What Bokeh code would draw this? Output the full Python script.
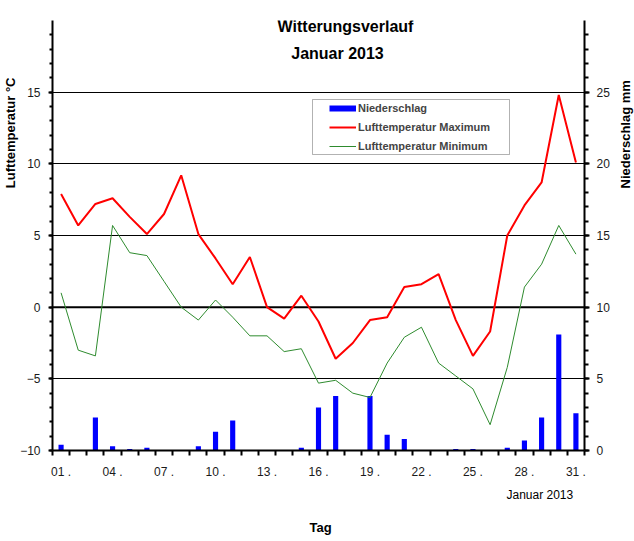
import math
from bokeh.plotting import figure
from bokeh.layouts import row, column
from bokeh.models import (Range1d, LinearAxis, FixedTicker, Label, Legend, LegendItem,
                          BoxAnnotation, Span, Title)
from bokeh.embed import file_html
from bokeh.resources import INLINE

days = list(range(1, 32))
t_max = [7.9, 5.7, 7.2, 7.6, 6.3, 5.1, 6.5, 9.2, 5.1, 3.4, 1.6, 3.5, 0.0, -0.8, 0.8, -1.0,
         -3.6, -2.5, -0.9, -0.7, 1.4, 1.6, 2.3, -0.9, -3.4, -1.7, 5.0, 7.1, 8.7, 14.8, 10.1]
t_min = [1.0, -3.0, -3.4, 5.7, 3.8, 3.6, 1.8, 0.0, -0.9, 0.5, -0.7, -2.0, -2.0, -3.1, -2.9, -5.3,
         -5.1, -6.0, -6.3, -3.9, -2.1, -1.4, -3.9, -4.8, -5.7, -8.2, -4.2, 1.4, 3.0, 5.7, 3.7]
rain = [0.4, 0.0, 2.3, 0.3, 0.1, 0.2, 0.0, 0.0, 0.3, 1.3, 2.1, 0.0, 0.0, 0.0, 0.2, 3.0,
        3.8, 0.0, 3.8, 1.1, 0.8, 0.0, 0.0, 0.1, 0.1, 0.0, 0.2, 0.7, 2.3, 8.1, 2.6]

label_days = list(range(1, 32, 3))
x_tick_labels = {d: "%02d ." % d for d in label_days}
temp_major = [-10, -5, 0, 5, 10, 15]
rain_major = [0, 5, 10, 15, 20, 25]

FONT = "Liberation Sans"


def blank_fig(w, h):
    f = figure(width=w, height=h, output_backend="svg", toolbar_location=None,
               x_range=Range1d(0, 1), y_range=Range1d(0, 1),
               x_axis_type=None, y_axis_type=None,
               min_border_left=0, min_border_right=0, min_border_top=0, min_border_bottom=0)
    f.outline_line_color = None
    f.grid.visible = False
    f.background_fill_color = "white"
    f.border_fill_color = "white"
    return f


def add_text(fig, txt, x, y, size, bold=True, angle=0.0, align="center"):
    fig.add_layout(Label(x=x, y=y, x_units="screen", y_units="screen", text=txt,
                         text_font=FONT, text_font_size=size,
                         text_font_style="bold" if bold else "normal",
                         text_align=align, text_baseline="alphabetic", angle=angle,
                         text_color="black"))


p = figure(width=613, height=481, output_backend="svg", toolbar_location=None,
           x_range=Range1d(0.5, 31.5), y_range=Range1d(-10, 20),
           min_border_left=52, min_border_right=29, min_border_top=20, min_border_bottom=31)
p.extra_y_ranges = {"rain": Range1d(0, 30)}
p.outline_line_color = None
p.background_fill_color = "white"
p.border_fill_color = "white"

# grid
p.xgrid.visible = False
p.ygrid.ticker = FixedTicker(ticks=[-5, 5, 10, 15])
p.ygrid.grid_line_color = "black"
p.ygrid.grid_line_width = 1
p.add_layout(Span(location=0, dimension="width", line_color="black", line_width=2,
                  level="underlay"))

# x axis
xa = p.xaxis[0]
xa.ticker = FixedTicker(ticks=label_days, minor_ticks=[d - 0.5 for d in days] + [31.5])
xa.major_label_overrides = x_tick_labels
xa.major_tick_out = 0
xa.major_tick_in = 0
xa.minor_tick_out = 5
xa.minor_tick_in = 0
xa.minor_tick_line_width = 2
xa.minor_tick_line_color = "black"
xa.axis_line_width = 2
xa.axis_line_color = "black"
xa.major_label_text_font = FONT
xa.major_label_text_font_size = "12px"
xa.major_label_text_color = "#1a1a1a"
xa.major_label_standoff = 9

# left axis
ya = p.yaxis[0]
ya.ticker = FixedTicker(ticks=temp_major, minor_ticks=list(range(-10, 20)))
ya.major_tick_out = 4
ya.major_tick_in = 0
ya.minor_tick_out = 3
ya.minor_tick_in = 0
ya.major_tick_line_width = 2
ya.minor_tick_line_width = 2
ya.axis_line_width = 2
ya.major_label_text_font = FONT
ya.major_label_text_font_size = "12px"
ya.major_label_text_color = "#1a1a1a"
ya.major_label_standoff = 8

# right axis
ra = LinearAxis(y_range_name="rain",
                ticker=FixedTicker(ticks=rain_major, minor_ticks=list(range(0, 30))))
ra.major_tick_out = 5
ra.major_tick_in = 0
ra.minor_tick_out = 4
ra.minor_tick_in = 0
ra.major_tick_line_width = 2
ra.minor_tick_line_width = 2
ra.axis_line_width = 2
ra.major_label_text_font = FONT
ra.major_label_text_font_size = "12px"
ra.major_label_text_color = "#1a1a1a"
ra.major_label_standoff = 7
p.add_layout(ra, "right")

# left axis title (outside the tick labels)
p.add_layout(Title(text="Lufttemperatur °C", align="right", offset=57, standoff=0,
                   text_font=FONT, text_font_size="13px", text_font_style="bold",
                   text_color="black"), "left")

# data
bars = p.vbar(x=days, top=rain, bottom=0, width=0.3, y_range_name="rain",
              fill_color="#0000ff", line_color=None)
lmax = p.line(days, t_max, line_color="#ff0000", line_width=2)
lmin = p.line(days, t_min, line_color="#2e8b2e", line_width=1)
leg_rain = p.line(x=[float("nan")], y=[float("nan")], line_color="#0000ff", line_width=6)

# legend box
p.add_layout(BoxAnnotation(left=260, right=457, top=351, bottom=296,
                           left_units="screen", right_units="screen",
                           top_units="screen", bottom_units="screen",
                           fill_color="white", fill_alpha=1.0, line_color="black",
                           line_width=1, level="annotation"))

legend = Legend(items=[LegendItem(label="Niederschlag", renderers=[leg_rain]),
                       LegendItem(label="Lufttemperatur Maximum", renderers=[lmax]),
                       LegendItem(label="Lufttemperatur Minimum", renderers=[lmin])],
                location=(277, 297), glyph_width=27, glyph_height=14, label_height=14,
                spacing=5, padding=0, margin=0, label_standoff=2,
                border_line_color=None, background_fill_alpha=0,
                label_text_font=FONT, label_text_font_size="11px",
                label_text_font_style="bold")
p.add_layout(legend)

add_text(p, "Witterungsverlauf", 293, 424, "16px")
add_text(p, "Januar 2013", 285, 397, "16px")

right_fig = blank_fig(21, 481)
add_text(right_fig, "Niederschlag  mm", 12, 318, "13px", angle=math.pi / 2)

bottom_fig = blank_fig(634, 60)
add_text(bottom_fig, "Januar  2013", 541, 47, "12px", bold=False)
add_text(bottom_fig, "Tag", 320, 14, "13px")

layout = column(row(p, right_fig, spacing=0), bottom_fig, spacing=0)

open("out.html", "w").write(file_html(layout, INLINE))
